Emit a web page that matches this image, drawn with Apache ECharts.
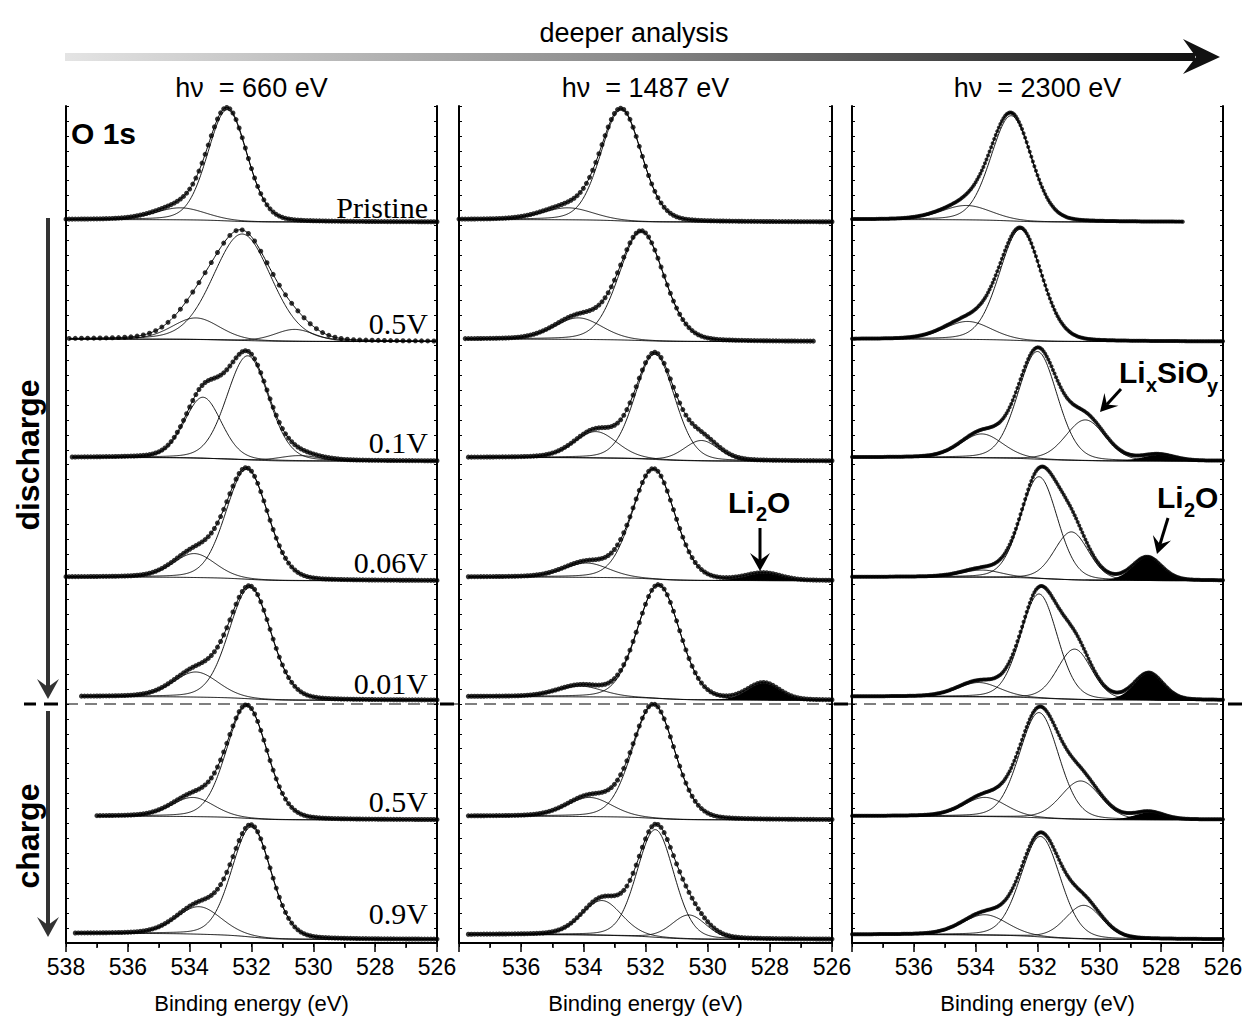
<!DOCTYPE html>
<html><head><meta charset="utf-8">
<script src="https://cdn.jsdelivr.net/npm/echarts/dist/echarts.min.js"></script>
<style>html,body{margin:0;padding:0;background:#fff}#c{width:1247px;height:1019px}</style>
</head><body><div id="c"></div>
<script>
// ---------------- data ----------------
const headline = 'deeper analysis';
const panelTitles = ['hν  = 660 eV', 'hν  = 1487 eV', 'hν  = 2300 eV'];
const coreLevel = 'O 1s';
const stateLabels = ['Pristine', '0.5V', '0.1V', '0.06V', '0.01V', '0.5V', '0.9V'];
const energyTicks = [538, 536, 534, 532, 530, 528, 526];
const axisTitle = 'Binding energy (eV)';

// fitted components: [centre eV, height (one row = 1), FWHM eV, filled 0/1]
const fit660 = [
  [[532.78, 0.93, 1.50, 0], [534.30, 0.10, 1.9, 0]],
  [[532.30, 0.89, 2.20, 0], [533.80, 0.18, 1.8, 0], [530.60, 0.10, 1.5, 0]],
  [[532.12, 0.87, 1.60, 0], [533.57, 0.51, 1.4, 0], [530.45, 0.045, 1.5, 0]],
  [[532.15, 0.92, 1.60, 0], [533.85, 0.20, 1.6, 0]],
  [[532.05, 0.93, 1.60, 0], [533.80, 0.21, 1.7, 0]],
  [[532.15, 0.94, 1.55, 0], [533.90, 0.16, 1.6, 0]],
  [[532.00, 0.92, 1.50, 0], [533.70, 0.23, 1.7, 0]]
];
const fit1487 = [
  [[532.78, 0.93, 1.55, 0], [534.50, 0.10, 1.9, 0]],
  [[532.13, 0.91, 1.70, 0], [534.16, 0.18, 1.8, 0]],
  [[531.70, 0.88, 1.50, 0], [533.60, 0.22, 1.6, 0], [530.20, 0.17, 1.3, 0]],
  [[531.74, 0.92, 1.60, 0], [533.90, 0.12, 1.7, 0], [528.20, 0.06, 1.3, 1]],
  [[531.58, 0.95, 1.60, 0], [534.10, 0.09, 1.7, 0], [528.20, 0.14, 1.2, 1]],
  [[531.74, 0.95, 1.60, 0], [533.80, 0.16, 1.7, 0]],
  [[531.68, 0.90, 1.40, 0], [533.40, 0.29, 1.5, 0], [530.60, 0.20, 1.3, 0]]
];
const fit2300 = [
  [[532.85, 0.88, 1.55, 0], [534.30, 0.12, 1.9, 0]],
  [[532.55, 0.93, 1.60, 0], [534.26, 0.15, 1.8, 0]],
  [[532.00, 0.90, 1.50, 0], [533.80, 0.20, 1.6, 0], [530.45, 0.34, 1.5, 0], [528.10, 0.05, 1.2, 1]],
  [[531.95, 0.85, 1.40, 0], [533.80, 0.06, 1.5, 0], [530.90, 0.40, 1.3, 0], [528.45, 0.19, 1.1, 1]],
  [[531.95, 0.87, 1.40, 0], [533.90, 0.12, 1.6, 0], [530.80, 0.42, 1.3, 0], [528.40, 0.22, 1.1, 1]],
  [[531.95, 0.88, 1.50, 0], [533.70, 0.16, 1.6, 0], [530.60, 0.32, 1.5, 0], [528.40, 0.06, 1.1, 1]],
  [[531.90, 0.84, 1.50, 0], [533.70, 0.17, 1.7, 0], [530.50, 0.28, 1.4, 0]]
];
// measured energy window [high, low, point spacing] of each spectrum
const span660 = [[538, 526, 0.1], [537.9, 526, 0.2], [537.8, 526, 0.1], [538, 526, 0.1], [537.5, 526, 0.1], [537, 526, 0.1], [537.7, 526, 0.1]];
const span1487 = [[538, 526, 0.1], [537.8, 526.6, 0.1], [537.7, 526, 0.1], [537.7, 526, 0.1], [537.7, 526, 0.1], [537.7, 526, 0.1], [537.7, 526, 0.1]];
const span2300 = [[538, 527.3, 0.05], [538, 526, 0.05], [538, 526, 0.05], [538, 526, 0.05], [538, 526, 0.05], [538, 526, 0.05], [538, 526, 0.05]];
// Shirley background step of each spectrum
const bgStep660 = [0.02, 0.02, 0.03, 0.03, 0.03, 0.03, 0.05];
const bgStep1487 = [0.02, 0.02, 0.03, 0.03, 0.03, 0.03, 0.04];
const bgStep2300 = [0.02, 0.02, 0.03, 0.03, 0.03, 0.03, 0.04];

// ---------------- drawing ----------------
const SANS = "'Liberation Sans', Arial, sans-serif";
const SERIF = "'Liberation Serif', 'Times New Roman', serif";
const fits = [fit660, fit1487, fit2300];
const spans = [span660, span1487, span2300];
const steps = [bgStep660, bgStep1487, bgStep2300];
const grids = [
  { left: 66, top: 106, width: 371, height: 837 },
  { left: 459, top: 106, width: 373, height: 837 },
  { left: 852, top: 106, width: 371, height: 837 }
];

function pv(E, c, h, w) {
  const d = (E - c) / w;
  return h * (0.85 * Math.exp(-2.7725887 * d * d) + 0.15 / (1 + 4 * d * d));
}
const FINE = 0.025;
const series = [];
fits.forEach((panel, pi) => {
  panel.forEach((comps, si) => {
    const base = 6 - si + 0.03;
    const [eHi, eLo, st] = spans[pi][si];
    const n = Math.round((eHi - eLo) / FINE);
    const Es = [];
    for (let k = 0; k <= n; k++) Es.push(+(eLo + k * FINE).toFixed(4));
    const env = Es.map(E => comps.reduce((a, c) => a + pv(E, c[0], c[1], c[2]), 0));
    const cum = [0];
    for (let k = 1; k <= n; k++) cum.push(cum[k - 1] + (env[k] + env[k - 1]) / 2 * FINE);
    const tot = cum[n];
    const bg = cum.map(v => base + steps[pi][si] * v / tot);
    const common = { xAxisIndex: pi, yAxisIndex: pi, silent: true, animation: false };
    series.push(Object.assign({ type: 'line', showSymbol: false, data: Es.map((E, k) => [E, bg[k]]),
      lineStyle: { color: '#000', width: 1 }, z: 2 }, common));
    comps.forEach(c => {
      const vals = Es.map((E, k) => [E, bg[k] + pv(E, c[0], c[1], c[2])]);
      if (c[3]) {
        const pts = [];
        Es.forEach((E, k) => { if (pv(E, c[0], c[1], c[2]) > 0.002) pts.push([E, bg[k] + pv(E, c[0], c[1], c[2])]); });
        for (let k = Es.length - 1; k >= 0; k--) { if (pv(Es[k], c[0], c[1], c[2]) > 0.002) pts.push([Es[k], bg[k]]); }
        series.push(Object.assign({ type: 'custom', data: [[c[0], bg[0]]], z: 3,
          renderItem: (params, api) => ({ type: 'polygon', shape: { points: pts.map(p => api.coord(p)) }, style: { fill: '#000' } })
        }, common));
      } else {
        series.push(Object.assign({ type: 'line', showSymbol: false, data: vals,
          lineStyle: { color: '#000', width: 0.9 }, z: 2 }, common));
      }
    });
    series.push(Object.assign({ type: 'line', showSymbol: false, data: Es.map((E, k) => [E, bg[k] + env[k]]),
      lineStyle: { color: '#000', width: 1 }, z: 2 }, common));
    const m = Math.round(st / FINE);
    const dots = [];
    for (let k = n; k >= 0; k -= m) dots.push([Es[k], bg[k] + env[k]]);
    series.push(Object.assign({ type: 'scatter', data: dots, symbol: 'circle', symbolSize: pi === 2 ? 4 : 5,
      itemStyle: { color: '#000' }, z: 4 }, common));
  });
});

const xBottom = grids.map((g, pi) => ({
  type: 'value', gridIndex: pi, position: 'bottom', inverse: true, min: 526, max: 538, interval: 2,
  name: axisTitle, nameLocation: 'middle', nameGap: 49,
  nameTextStyle: { fontFamily: SANS, fontSize: 22, color: '#000' },
  axisLine: { lineStyle: { color: '#000', width: 2 } },
  axisTick: { length: 9, lineStyle: { color: '#000', width: 1.5 } },
  minorTick: { show: true, splitNumber: 2, length: 5, lineStyle: { color: '#000', width: 1.5 } },
  splitLine: { show: false },
  axisLabel: { fontFamily: SANS, fontSize: 23, color: '#000', margin: 12, showMinLabel: true, showMaxLabel: true,
    formatter: v => (pi > 0 && v === energyTicks[0]) ? '' : String(energyTicks.find(t => t === v) ?? v) }
}));
const xTop = grids.map((g, pi) => ({
  type: 'value', gridIndex: pi, position: 'top', inverse: true, min: 526, max: 538, interval: 1,
  axisLine: { lineStyle: { color: '#000', width: 2 } },
  axisTick: { inside: true, length: 4, lineStyle: { color: '#000', width: 1 } },
  axisLabel: { show: false }, splitLine: { show: false }
}));
const yAx = (pos) => grids.map((g, pi) => ({
  type: 'value', gridIndex: pi, position: pos, min: 0, max: 7, interval: 0.125,
  axisLine: { show: true, lineStyle: { color: '#000', width: 2 } },
  axisTick: { show: true, inside: true, length: 3, lineStyle: { color: '#000', width: 1 } },
  axisLabel: { show: false }, splitLine: { show: false }
}));

function txt(x, y, text, size, opts) {
  opts = opts || {};
  return { type: 'text', x: x, y: y, rotation: opts.rot || 0, silent: true, z: 10,
    style: { text: text, x: 0, y: 0, fill: '#000', fontSize: size, fontFamily: opts.family || SANS,
      fontWeight: opts.bold ? 'bold' : 'normal', textAlign: opts.align || 'center', align: opts.align || 'center',
      textVerticalAlign: 'middle', verticalAlign: 'middle' } };
}
function arrow(x1, y1, x2, y2, w, hl, hw, color) {
  const dx = x2 - x1, dy = y2 - y1, L = Math.hypot(dx, dy), ux = dx / L, uy = dy / L, px = -uy, py = ux;
  const bx = x2 - ux * hl, by = y2 - uy * hl;
  const nx = x2 - ux * hl * 0.6, ny = y2 - uy * hl * 0.6;
  return [
    { type: 'line', silent: true, z: 10, shape: { x1: x1, y1: y1, x2: nx, y2: ny }, style: { stroke: color, lineWidth: w } },
    { type: 'polygon', silent: true, z: 10, shape: { points: [[x2, y2], [bx + px * hw / 2, by + py * hw / 2], [nx, ny], [bx - px * hw / 2, by - py * hw / 2]] }, style: { fill: color } }
  ];
}

const elements = [];
elements.push(txt(634, 33, headline, 27));
elements.push({ type: 'rect', silent: true, shape: { x: 65, y: 53, width: 1130, height: 8 },
  style: { fill: { type: 'linear', x: 0, y: 0, x2: 1, y2: 0, colorStops: [{ offset: 0, color: '#e4e4e4' }, { offset: 0.5, color: '#8a8a8a' }, { offset: 1, color: '#111' }] } } });
elements.push({ type: 'polygon', silent: true, shape: { points: [[1183, 39], [1220, 57], [1183, 74], [1196, 57]] }, style: { fill: '#111' } });
grids.forEach((g, pi) => elements.push(txt(g.left + g.width / 2, 88, panelTitles[pi], 27)));
elements.push(txt(71, 133, coreLevel, 30, { bold: true, align: 'left' }));
const labelY = [207, 323, 442, 562, 683, 801, 913];
stateLabels.forEach((s, i) => elements.push(txt(428, labelY[i], s, 30, { family: SERIF, align: 'right' })));
// Li2O (middle)
elements.push(txt(728, 502, 'Li', 30, { bold: true, align: 'left' }));
elements.push(txt(756, 514, '2', 20, { bold: true, align: 'left' }));
elements.push(txt(767, 502, 'O', 30, { bold: true, align: 'left' }));
elements.push(...arrow(760, 528, 760, 571, 3, 18, 20, '#000'));
// LixSiOy (right)
elements.push(txt(1119, 372, 'Li', 30, { bold: true, align: 'left' }));
elements.push(txt(1146, 385, 'x', 20, { bold: true, align: 'left' }));
elements.push(txt(1157, 372, 'SiO', 30, { bold: true, align: 'left' }));
elements.push(txt(1207, 386, 'y', 20, { bold: true, align: 'left' }));
elements.push(...arrow(1121, 389, 1100, 412, 3, 17, 19, '#000'));
// Li2O (right)
elements.push(txt(1157, 497, 'Li', 30, { bold: true, align: 'left' }));
elements.push(txt(1184, 510, '2', 20, { bold: true, align: 'left' }));
elements.push(txt(1195, 497, 'O', 30, { bold: true, align: 'left' }));
elements.push(...arrow(1168, 518, 1157, 554, 3, 17, 19, '#000'));
// discharge / charge arrows
elements.push(...arrow(48, 218, 48, 699, 4, 20, 22, '#333'));
elements.push(...arrow(48, 711, 48, 937, 4, 20, 22, '#333'));
elements.push(txt(28, 455, 'discharge', 32, { bold: true, rot: Math.PI / 2 }));
elements.push(txt(28, 836, 'charge', 32, { bold: true, rot: Math.PI / 2 }));
// dashed separator
elements.push({ type: 'line', silent: true, z: 9, shape: { x1: 66, y1: 704, x2: 1223, y2: 704 }, style: { stroke: '#000', lineWidth: 1.2, lineDash: [12, 7] } });
[[24, 36], [44, 58], [440, 454], [834, 848], [1228, 1242]].forEach(s => elements.push({ type: 'line', silent: true, z: 9,
  shape: { x1: s[0], y1: 704, x2: s[1], y2: 704 }, style: { stroke: '#000', lineWidth: 3 } }));

const chart = echarts.init(document.getElementById('c'), null, { renderer: 'svg', width: 1247, height: 1019 });
chart.setOption({
  animation: false,
  backgroundColor: '#fff',
  grid: grids,
  xAxis: xBottom.concat(xTop),
  yAxis: yAx('left').concat(yAx('right')),
  series: series,
  graphic: { elements: elements }
});
</script></body></html>
